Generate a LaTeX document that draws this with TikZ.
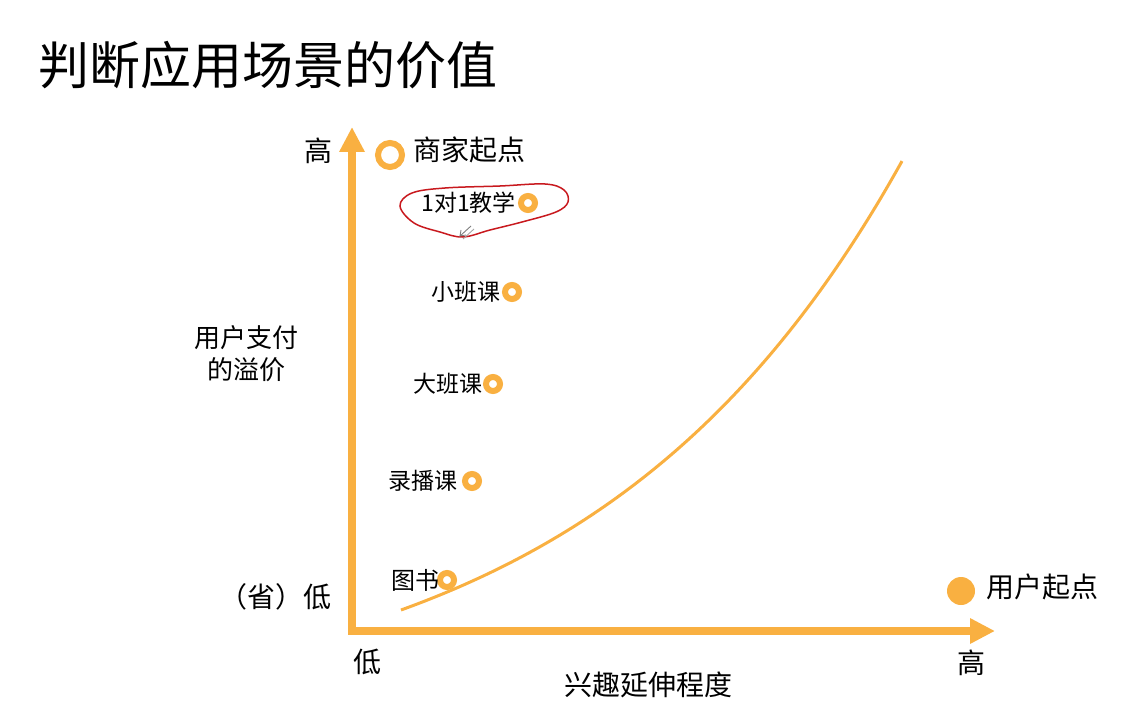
\documentclass[tikz,border=0pt]{standalone}
\usepackage{fontspec}
\setmainfont{Noto Sans CJK SC}
\usetikzlibrary{arrows.meta}
\definecolor{orng}{RGB}{249,176,65}
\definecolor{hred}{RGB}{200,25,30}
\begin{document}
\begin{tikzpicture}[x=1pt,y=-1pt,
  lbl/.style={font=\fontsize{28}{34}\selectfont, inner sep=0pt},
  smalllbl/.style={font=\fontsize{23}{28}\selectfont, inner sep=0pt, anchor=east},
  ring/.style={circle, draw=orng, line width=6pt, minimum size=14pt, inner sep=0pt, outer sep=0pt},
  bigring/.style={circle, draw=orng, line width=6pt, minimum size=24pt, inner sep=0pt, outer sep=0pt},
  bigdot/.style={circle, fill=orng, minimum size=28pt, inner sep=0pt, outer sep=0pt},
  axis/.style={orng, line width=8.5pt, {Triangle[length=25pt,width=24pt]}-{Triangle[length=25pt,width=24pt]}},
  curveline/.style={orng, line width=3pt},
  handdrawn/.style={hred, line width=1.5pt}
]
\useasboundingbox (0,0) rectangle (1134,714);

% title
\node[font=\fontsize{51}{60}\selectfont, inner sep=0pt, anchor=west] (title) at (38,65) {判断应用场景的价值};

% axes
\coordinate (ytip) at (352,127);
\coordinate (corner) at (352,631);
\coordinate (xtip) at (995,631);
\draw[axis] (ytip) -- (corner) -- (xtip);

% curve
\draw[curveline] plot[domain=0:501, samples=80] ({401+\x},{610-112.8*(exp(0.0032*\x)-1)});

% start points
\node[bigring] (mstart) at (390,155) {};
\node[lbl, anchor=west] (mstartlbl) at (413,150) {商家起点};
\node[bigdot] (ustart) at (961,591) {};
\node[lbl, anchor=west] (ustartlbl) at (986,587) {用户起点};

% scenarios
\node[ring] (r1) at (528,203) {};
\node[smalllbl] (l1) at ([xshift=-5pt]r1.west) {1对1教学};
\node[ring] (r2) at (512,292) {};
\node[smalllbl] (l2) at ([xshift=-4pt]r2.west) {小班课};
\node[ring] (r3) at (493,384) {};
\node[smalllbl] (l3) at ([xshift=-3pt]r3.west) {大班课};
\node[ring] (r4) at (472,481) {};
\node[smalllbl] (l4) at ([xshift=-7pt]r4.west) {录播课};
\node[ring] (r5) at (447,580) {};
\node[smalllbl, font=\fontsize{24}{28}\selectfont] (l5) at ([xshift=0pt]r5.west) {图书};

% red hand-drawn loop
\draw[handdrawn] plot[smooth cycle, tension=0.6] coordinates {(400,206) (412,193) (445,188) (500,186) (545,184) (564,190) (568,202) (556,212) (522,222) (490,230) (463,237) (440,232) (414,223)};
\coordinate (m1a) at (471,226);
\coordinate (m1b) at (460,236);
\coordinate (m2a) at (474,229);
\coordinate (m2b) at (463,239);
\draw[gray, line width=0.9pt] (m1a) -- (m1b) -- ++(6,-1) (m1b) -- ++(1,-6);
\draw[gray!70, line width=0.9pt] (m2a) -- (m2b);

% axis labels
\node[lbl, anchor=east] (yhigh) at (333,151) {高};
\node[lbl, anchor=east] (ylow) at (332,597) {（省）低};
\node[lbl] (xlow) at (367,662) {低};
\node[lbl] (xhigh) at (971,663) {高};
\node[lbl] (xname) at (648,685) {兴趣延伸程度};
\node[font=\fontsize{26}{32}\selectfont, inner sep=0pt, align=center] (yname) at (246,354) {用户支付\\的溢价};
\end{tikzpicture}
\end{document}
